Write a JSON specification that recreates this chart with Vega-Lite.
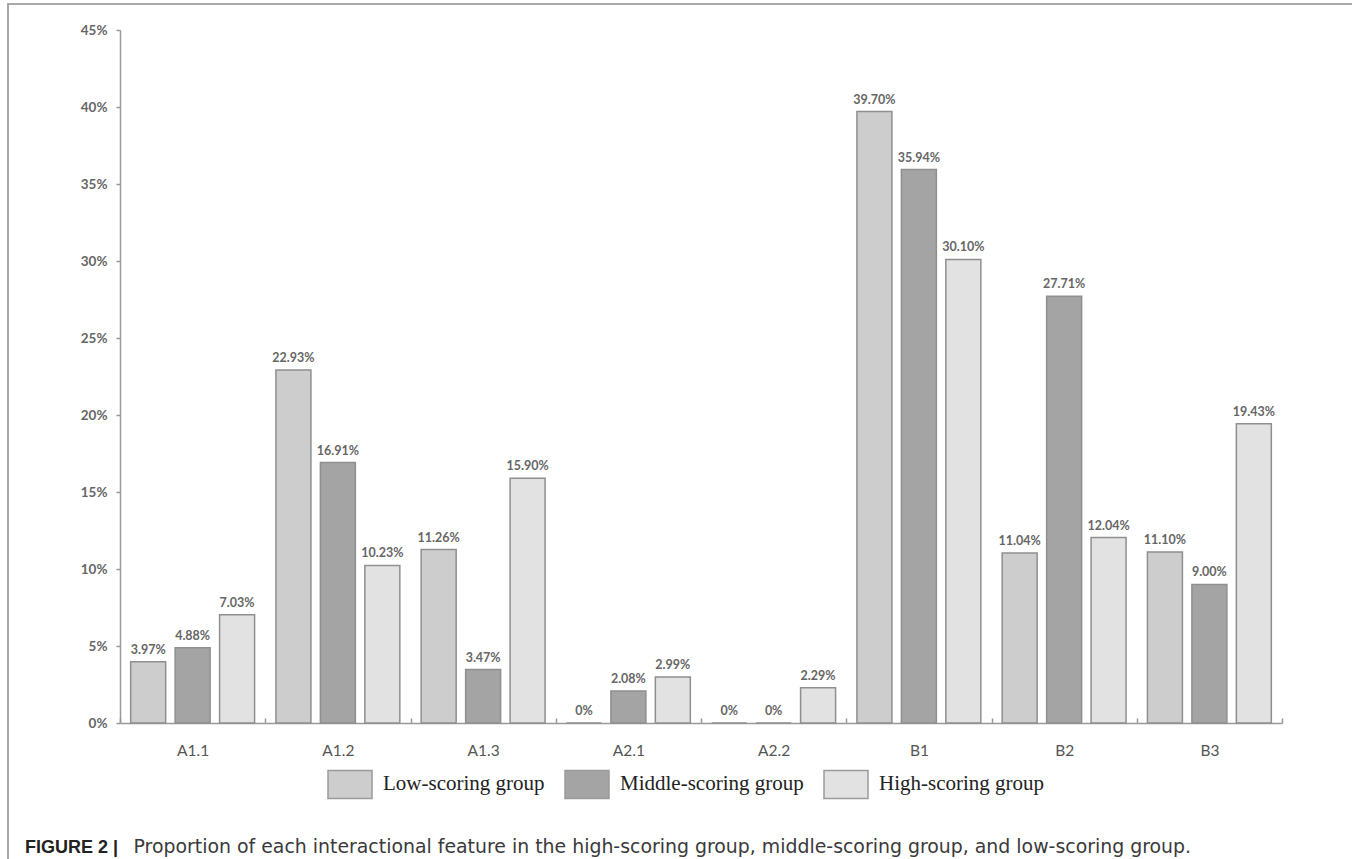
{
  "$schema": "https://vega.github.io/schema/vega-lite/v6.json",
  "width": 1344,
  "height": 855,
  "autosize": {"type": "none"},
  "padding": {"left": 8, "top": 4, "right": 0, "bottom": 0},
  "background": "white",
  "config": {
    "view": {"stroke": "#a8a8a8", "strokeWidth": 2, "strokeDash": [1344, 2199, 855, 1]},
    "axis": {"grid": false}
  },
  "title": {
    "text": "FIGURE 2 |",
    "orient": "bottom",
    "anchor": "start",
    "offset": -20,
    "dx": 17,
    "font": "Liberation Sans",
    "fontSize": 18,
    "fontWeight": "bold",
    "color": "#222222"
  },
  "data": {
    "values": [
      {"feature": "A1.1", "group": "Low-scoring group", "value": 3.97, "label": "3.97%"},
      {"feature": "A1.1", "group": "Middle-scoring group", "value": 4.88, "label": "4.88%"},
      {"feature": "A1.1", "group": "High-scoring group", "value": 7.03, "label": "7.03%"},
      {"feature": "A1.2", "group": "Low-scoring group", "value": 22.93, "label": "22.93%"},
      {"feature": "A1.2", "group": "Middle-scoring group", "value": 16.91, "label": "16.91%"},
      {"feature": "A1.2", "group": "High-scoring group", "value": 10.23, "label": "10.23%"},
      {"feature": "A1.3", "group": "Low-scoring group", "value": 11.26, "label": "11.26%"},
      {"feature": "A1.3", "group": "Middle-scoring group", "value": 3.47, "label": "3.47%"},
      {"feature": "A1.3", "group": "High-scoring group", "value": 15.90, "label": "15.90%"},
      {"feature": "A2.1", "group": "Low-scoring group", "value": 0, "label": "0%"},
      {"feature": "A2.1", "group": "Middle-scoring group", "value": 2.08, "label": "2.08%"},
      {"feature": "A2.1", "group": "High-scoring group", "value": 2.99, "label": "2.99%"},
      {"feature": "A2.2", "group": "Low-scoring group", "value": 0, "label": "0%"},
      {"feature": "A2.2", "group": "Middle-scoring group", "value": 0, "label": "0%"},
      {"feature": "A2.2", "group": "High-scoring group", "value": 2.29, "label": "2.29%"},
      {"feature": "B1", "group": "Low-scoring group", "value": 39.70, "label": "39.70%"},
      {"feature": "B1", "group": "Middle-scoring group", "value": 35.94, "label": "35.94%"},
      {"feature": "B1", "group": "High-scoring group", "value": 30.10, "label": "30.10%"},
      {"feature": "B2", "group": "Low-scoring group", "value": 11.04, "label": "11.04%"},
      {"feature": "B2", "group": "Middle-scoring group", "value": 27.71, "label": "27.71%"},
      {"feature": "B2", "group": "High-scoring group", "value": 12.04, "label": "12.04%"},
      {"feature": "B3", "group": "Low-scoring group", "value": 11.10, "label": "11.10%"},
      {"feature": "B3", "group": "Middle-scoring group", "value": 9.00, "label": "9.00%"},
      {"feature": "B3", "group": "High-scoring group", "value": 19.43, "label": "19.43%"}
    ]
  },
  "encoding": {
    "x": {
      "field": "feature",
      "type": "nominal",
      "sort": null,
      "scale": {"range": [112, 1274], "paddingInner": 0, "paddingOuter": 0},
      "axis": {
        "orient": "bottom",
        "offset": -136,
        "title": "Proportion of each interactional feature in the high-scoring group, middle-scoring group, and low-scoring group.",
        "titleAnchor": "start",
        "titleAlign": "left",
        "titleBaseline": "alphabetic",
        "titleX": 125,
        "titleY": 129,
        "titleFont": "DejaVu Sans",
        "titleFontSize": 18.9,
        "titleFontWeight": "normal",
        "titleColor": "#3a3a3a",
        "labelAngle": 0,
        "tickBand": "extent",
        "tickSize": -5,
        "tickColor": "#999999",
        "tickWidth": 1.5,
        "domainColor": "#999999",
        "domainWidth": 1.5,
        "labelFont": "Lato",
        "labelFontSize": 15.5,
        "labelColor": "#555555",
        "labelPadding": 25
      }
    },
    "xOffset": {
      "field": "group",
      "type": "nominal",
      "sort": ["Low-scoring group", "Middle-scoring group", "High-scoring group"],
      "scale": {"paddingInner": 0.213, "paddingOuter": 0.24}
    },
    "y": {
      "field": "value",
      "type": "quantitative",
      "scale": {"domain": [0, 45], "range": [719, 26], "nice": false, "zero": true},
      "axis": {
        "offset": -112,
        "title": null,
        "values": [0, 5, 10, 15, 20, 25, 30, 35, 40, 45],
        "labelExpr": "datum.value + '%'",
        "tickSize": 4,
        "tickColor": "#999999",
        "tickWidth": 1.5,
        "domainColor": "#999999",
        "domainWidth": 1.5,
        "labelPadding": 9,
        "labelFont": "Lato",
        "labelFontSize": 13.5,
        "labelFontWeight": "bold",
        "labelColor": "#666666"
      }
    }
  },
  "layer": [
    {
      "mark": {"type": "bar", "stroke": "#8f8f8f", "strokeWidth": 1.5, "fillOpacity": 1},
      "encoding": {
        "fill": {
          "field": "group",
          "type": "nominal",
          "scale": {
            "domain": ["Low-scoring group", "Middle-scoring group", "High-scoring group"],
            "range": ["#cdcdcd", "#a4a4a4", "#e2e2e2"]
          },
          "legend": {
            "orient": "none",
            "legendX": 319,
            "legendY": 757,
            "direction": "horizontal",
            "title": null,
            "padding": 0,
            "symbolType": "M-1,-0.64H1V0.64H-1Z",
            "symbolSize": 1936,
            "symbolStrokeColor": "#9a9a9a",
            "symbolStrokeWidth": 1.5,
            "symbolOpacity": 1,
            "labelFont": "Liberation Serif",
            "labelFontSize": 21,
            "labelColor": "#222222",
            "labelLimit": 400,
            "labelOffset": 10,
            "columnPadding": 17
          }
        }
      }
    },
    {
      "mark": {"type": "text", "baseline": "alphabetic", "dy": -8, "font": "Lato", "fontSize": 12.5, "fontWeight": "bold", "color": "#666666"},
      "encoding": {
        "text": {"field": "label", "type": "nominal"}
      }
    }
  ]
}
